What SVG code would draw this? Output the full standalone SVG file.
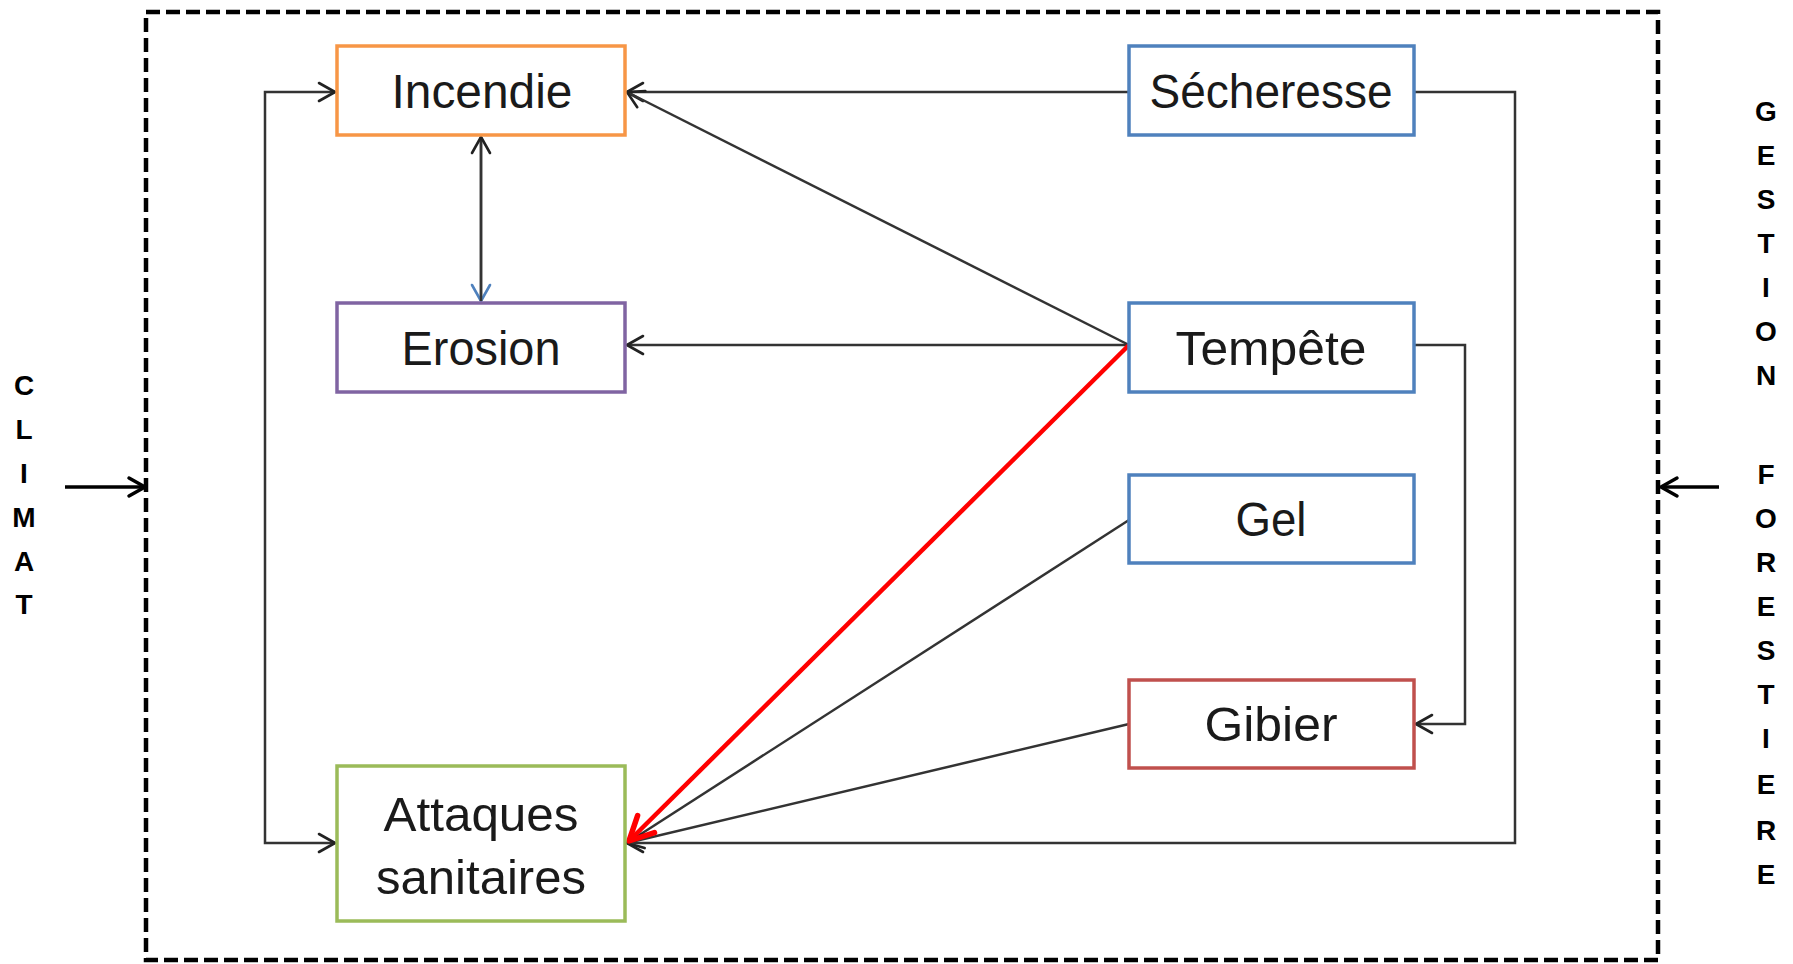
<svg xmlns="http://www.w3.org/2000/svg" width="1793" height="964" viewBox="0 0 1793 964">
<style>
.box{fill:#fff;stroke-width:3.5}
.lbl{font-family:"Liberation Sans",Arial,sans-serif;font-size:48px;fill:#1a1a1a;text-anchor:middle}
.side{font-family:"Liberation Sans",Arial,sans-serif;font-size:28px;font-weight:bold;fill:#000;text-anchor:middle}
.c{fill:none;stroke:#333;stroke-width:2.5}
</style>
<defs>
<marker id="arr" viewBox="0 0 22 22" refX="20" refY="11" markerWidth="22" markerHeight="22" markerUnits="userSpaceOnUse" orient="auto-start-reverse">
<path d="M4,2 L20,11 L4,20" fill="none" stroke="#222" stroke-width="2.6" stroke-linecap="round" stroke-linejoin="round"/>
</marker>
<marker id="arrBlue" viewBox="0 0 22 22" refX="20" refY="11" markerWidth="22" markerHeight="22" markerUnits="userSpaceOnUse" orient="auto">
<path d="M4,2 L20,11 L4,20" fill="none" stroke="#4F81BD" stroke-width="2.6" stroke-linecap="round" stroke-linejoin="round"/>
</marker>
<marker id="arrRed" viewBox="0 0 32 32" refX="29" refY="16" markerWidth="32" markerHeight="32" markerUnits="userSpaceOnUse" orient="auto">
<path d="M5,4 L29,16 L5,28" fill="none" stroke="#f00" stroke-width="5.5" stroke-linecap="round" stroke-linejoin="round"/>
</marker>
<marker id="arrBig" viewBox="0 0 24 24" refX="21" refY="12" markerWidth="24" markerHeight="24" markerUnits="userSpaceOnUse" orient="auto">
<path d="M5,3 L21,12 L5,21" fill="none" stroke="#000" stroke-width="3.5" stroke-linecap="round" stroke-linejoin="round"/>
</marker>
</defs>
<rect width="1793" height="964" fill="#fff"/>
<g id="frame">
<rect x="146" y="12" width="1512" height="948" fill="none" stroke="#000" stroke-width="4.5" stroke-dasharray="14,6"/>
</g>
<g id="connectors">
<path class="c" d="M1129,92 L627,92" marker-end="url(#arr)"/>
<path class="c" d="M1129,345 L627,92" marker-end="url(#arr)"/>
<path class="c" d="M1129,345 L627,345" marker-end="url(#arr)"/>
<path class="c" d="M481,137 L481,301" marker-end="url(#arrBlue)"/>
<path class="c" d="M481,301 L481,137" marker-end="url(#arr)"/>
<path class="c" d="M1129,520 L627,843"/>
<path class="c" d="M1129,724 L627,843" marker-end="url(#arr)"/>
<path class="c" d="M1414,92 L1515,92 L1515,843 L627,843" marker-end="url(#arr)"/>
<path class="c" d="M1414,345 L1465,345 L1465,724 L1416,724" marker-end="url(#arr)"/>
<path class="c" d="M335,92 L265,92 L265,843 L335,843" marker-start="url(#arr)" marker-end="url(#arr)"/>
<path d="M1129,345 L629,841" fill="none" stroke="#f00" stroke-width="4.5" marker-end="url(#arrRed)"/>
<path d="M65,487 L145,487" fill="none" stroke="#000" stroke-width="3.5" marker-end="url(#arrBig)"/>
<path d="M1719,487 L1661,487" fill="none" stroke="#000" stroke-width="3.5" marker-end="url(#arrBig)"/>
</g>
<g id="incendie">
<rect class="box" x="337" y="46" width="288" height="89" stroke="#F79646"/>
<text class="lbl" x="482" y="108" textLength="181" lengthAdjust="spacingAndGlyphs">Incendie</text>
</g>
<g id="secheresse">
<rect class="box" x="1129" y="46" width="285" height="89" stroke="#4F81BD"/>
<text class="lbl" x="1271" y="108" textLength="243" lengthAdjust="spacingAndGlyphs">Sécheresse</text>
</g>
<g id="erosion">
<rect class="box" x="337" y="303" width="288" height="89" stroke="#8064A2"/>
<text class="lbl" x="481" y="365" textLength="159" lengthAdjust="spacingAndGlyphs">Erosion</text>
</g>
<g id="tempete">
<rect class="box" x="1129" y="303" width="285" height="89" stroke="#4F81BD"/>
<text class="lbl" x="1271" y="365" textLength="191" lengthAdjust="spacingAndGlyphs">Tempête</text>
</g>
<g id="gel">
<rect class="box" x="1129" y="475" width="285" height="88" stroke="#4F81BD"/>
<text class="lbl" x="1271" y="536" textLength="71" lengthAdjust="spacingAndGlyphs">Gel</text>
</g>
<g id="gibier">
<rect class="box" x="1129" y="680" width="285" height="88" stroke="#C0504D"/>
<text class="lbl" x="1271" y="741" textLength="133" lengthAdjust="spacingAndGlyphs">Gibier</text>
</g>
<g id="attaques">
<rect class="box" x="337" y="766" width="288" height="155" stroke="#9BBB59"/>
<text class="lbl" x="481" y="831" textLength="195" lengthAdjust="spacingAndGlyphs">Attaques</text>
<text class="lbl" x="481" y="894" textLength="210" lengthAdjust="spacingAndGlyphs">sanitaires</text>
</g>
<g id="climat">
<text class="side" x="24" y="395">C</text>
<text class="side" x="24" y="439">L</text>
<text class="side" x="24" y="483">I</text>
<text class="side" x="24" y="527">M</text>
<text class="side" x="24" y="571">A</text>
<text class="side" x="24" y="614">T</text>
</g>
<g id="gestion">
<text class="side" x="1766" y="121">G</text>
<text class="side" x="1766" y="165">E</text>
<text class="side" x="1766" y="209">S</text>
<text class="side" x="1766" y="253">T</text>
<text class="side" x="1766" y="297">I</text>
<text class="side" x="1766" y="341">O</text>
<text class="side" x="1766" y="385">N</text>
<text class="side" x="1766" y="484">F</text>
<text class="side" x="1766" y="528">O</text>
<text class="side" x="1766" y="572">R</text>
<text class="side" x="1766" y="616">E</text>
<text class="side" x="1766" y="660">S</text>
<text class="side" x="1766" y="704">T</text>
<text class="side" x="1766" y="748">I</text>
<text class="side" x="1766" y="794">E</text>
<text class="side" x="1766" y="840">R</text>
<text class="side" x="1766" y="884">E</text>
</g>
</svg>
